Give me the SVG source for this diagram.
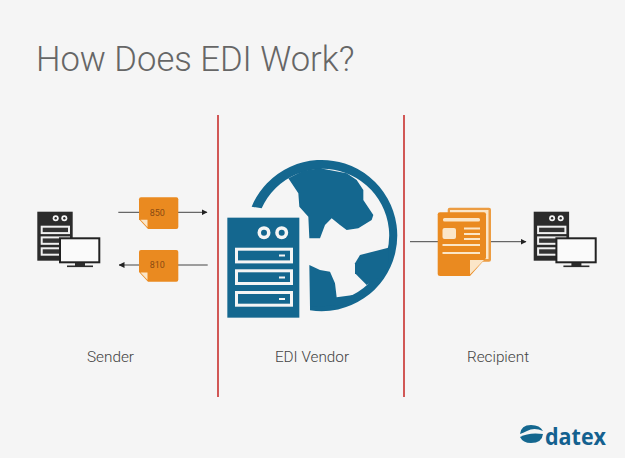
<svg xmlns="http://www.w3.org/2000/svg" width="625" height="458" viewBox="0 0 625 458">
<style>
.lab{font-family:Roboto,"Liberation Sans",sans-serif;font-weight:300;font-size:15.300px;fill:#444;text-anchor:middle}
.blue{fill:#14678f}.dark{fill:#2b2b2b}.bg{fill:#f5f5f5}.org{fill:#ea8a20}.cream{fill:#fbe6c8}
.ln{stroke:#444;stroke-width:1;fill:none}.red{stroke:#c8302e;stroke-width:1.600;fill:none}
.num{font-family:Roboto,"Liberation Sans",sans-serif;font-size:9px;fill:#8a4a12;text-anchor:middle}
</style>
<defs>
<marker id="ah" viewBox="0 0 6 6" refX="5.500" refY="3" markerWidth="6" markerHeight="6" orient="auto-start-reverse" markerUnits="userSpaceOnUse"><path d="M0,0L6,3L0,6Z" fill="#222"/></marker>
<g id="pc">
<rect class="dark" x="37.300" y="211.700" width="35.400" height="49"/>
<circle class="bg" cx="55.700" cy="218.300" r="3"/><circle class="bg" cx="64.300" cy="218.300" r="3"/>
<circle class="dark" cx="55.700" cy="218.300" r="1.200"/><circle class="dark" cx="64.300" cy="218.300" r="1.200"/>
<rect x="41.700" y="226.700" width="27.300" height="6.400" fill="#333" stroke="#f0f0f0" stroke-width="2"/>
<rect x="41.700" y="237.400" width="27.300" height="6.400" fill="#333" stroke="#f0f0f0" stroke-width="2"/>
<rect x="41.700" y="248.300" width="27.300" height="6.400" fill="#333" stroke="#f0f0f0" stroke-width="2"/>
<rect x="59" y="237.300" width="41.300" height="26" fill="#222"/>
<rect x="61" y="239.300" width="37.300" height="22" fill="#fafafa"/>
<rect class="dark" x="75" y="263" width="10" height="3"/>
<rect class="dark" x="67" y="265.500" width="26" height="1.600"/>
</g>
<g id="note">
<path class="org" d="M2,0H37.300Q39.300,0 39.300,2V29.700Q39.300,31.700 37.300,31.700H9L0,22V2Q0,0 2,0Z"/>
<path class="cream" d="M1.500,22.500H8.500V30Z"/>
</g>
</defs>
<rect width="625" height="458" class="bg"/>
<text id="title" x="36" y="71" font-family="Roboto,'Liberation Sans',sans-serif" font-weight="300" font-size="34.600" fill="#666">How Does EDI Work?</text>

<g id="connectors">
<line class="red" x1="218" y1="115" x2="218" y2="397"/>
<line class="red" x1="404" y1="115" x2="404" y2="397"/>
<line class="ln" x1="118.300" y1="212.300" x2="207" y2="212.300" marker-end="url(#ah)"/>
<line class="ln" x1="207.700" y1="265" x2="119" y2="265" marker-end="url(#ah)"/>
<line class="ln" x1="410" y1="241.700" x2="526" y2="241.700" marker-end="url(#ah)"/>
</g>

<g id="sender"><use href="#pc"/><text class="lab" x="110.500" y="362">Sender</text></g>

<g id="doc850"><use href="#note" x="139" y="197.300"/><text class="num" x="157.300" y="215.500">850</text></g>
<g id="doc810"><use href="#note" x="139" y="250"/><text class="num" x="157.300" y="268">810</text></g>

<g id="vendor">
<g transform="translate(220 150) scale(.33333)" class="blue">
<path d="M95,170A227,227 0 1 1 270,481L270,453A200,200 0 1 0 125,175Z"/>
<path d="M205,85L235,130L238,170L265,200L268,265L300,265L315,225L335,205L360,225L380,240L415,235L455,210L460,195L430,150L430,120L410,90L380,70L300,55L250,62Z"/>
<path d="M405,340L420,315L505,293L505,340L490,375L440,405L405,370Z"/>
<path d="M268,345L300,360L330,365L345,400L350,442L400,435L380,465L270,470Z"/>
<rect x="22" y="203" width="216" height="300"/>
</g>
<circle cx="264" cy="232.700" r="6.500" class="bg"/><circle cx="281.700" cy="232.700" r="6.500" class="bg"/>
<circle cx="264" cy="232.700" r="3" class="blue"/><circle cx="281.700" cy="232.700" r="3" class="blue"/>
<rect x="236.500" y="249.200" width="55" height="12.700" class="blue" stroke="#f5f5f5" stroke-width="3"/>
<rect x="236.500" y="270.800" width="55" height="12.700" class="blue" stroke="#f5f5f5" stroke-width="3"/>
<rect x="236.500" y="292.500" width="55" height="12.700" class="blue" stroke="#f5f5f5" stroke-width="3"/>
<rect x="279" y="254.500" width="6" height="2" class="bg"/><rect x="279" y="276.500" width="6" height="2" class="bg"/><rect x="279" y="298" width="6" height="2" class="bg"/>
<text class="lab" x="312" y="362">EDI Vendor</text>
</g>

<g id="document">
<rect x="447.700" y="207.700" width="43.300" height="54" rx="2" fill="#ec9c42"/>
<rect x="450" y="210" width="38.500" height="49" fill="#fbe6c8"/>
<path class="org" d="M440,212.300H484Q486,212.300 486,214.300V258L470,276H440Q437.700,276 437.700,274V214.300Q437.700,212.300 440,212.300Z"/>
<path class="cream" d="M470,260H484L470,274.500Z"/>
<g class="cream">
<rect x="443" y="218" width="37" height="3.500" rx="1.500"/>
<rect x="442.500" y="228" width="13.500" height="11" rx="2"/>
<rect x="464" y="227.500" width="16" height="2"/>
<rect x="464" y="233" width="16" height="2"/>
<rect x="464" y="238" width="16" height="2"/>
<rect x="442.500" y="244" width="37.500" height="2"/>
<rect x="442.500" y="252" width="37.500" height="2"/>
</g>
</g>

<g id="recipient"><use href="#pc" x="496.400"/><text class="lab" x="498" y="362">Recipient</text></g>

<g id="logo">
<path d="M520,434Q521,425 531,425Q540,425 543,431Q534,427 527,431Q523,433 520,434Z" fill="#14678f"/>
<path d="M520,437Q529,432 543,434Q542,443 531,443Q523,443 520,437Z" fill="#14678f"/>
<text x="545" y="444.500" font-family="'Open Sans','Liberation Sans',sans-serif" font-weight="700" font-size="23" fill="#14618f" textLength="61" lengthAdjust="spacingAndGlyphs">datex</text>
</g>
</svg>
